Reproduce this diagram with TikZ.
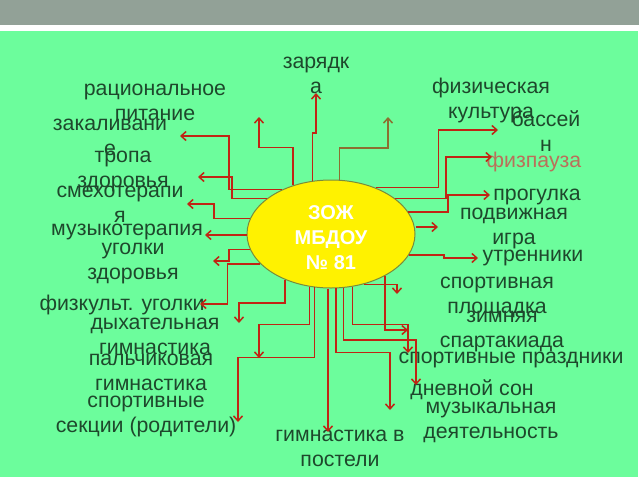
\documentclass[tikz,border=0pt]{standalone}
\usepackage{fontspec}
\setmainfont{Liberation Sans}
\usetikzlibrary{shapes.geometric,arrows.meta}
\definecolor{bggreen}{RGB}{108,253,156}
\definecolor{bandgray}{RGB}{146,161,151}
\definecolor{txtgreen}{RGB}{30,72,44}
\definecolor{linered}{RGB}{192,36,20}
\definecolor{lineolive}{RGB}{140,112,48}
\definecolor{pausecol}{RGB}{186,112,90}
\definecolor{edgeolive}{RGB}{120,140,60}
\tikzstyle{core} = [ellipse, minimum width=168pt, minimum height=108pt, inner sep=0pt, draw=edgeolive, line width=1pt, fill=yellow]
\tikzstyle{coretext} = [align=center, inner sep=0pt, text=white, font=\bfseries\fontsize{20}{25}\selectfont]
\tikzstyle{item} = [align=center, inner sep=0pt, text=txtgreen, font=\fontsize{21.3}{25}\selectfont]
\tikzstyle{arrow} = [line width=1.5pt, draw=linered, ->, >={Straight Barb[length=5pt,width=9pt]}]
\tikzstyle{arrowo} = [arrow, draw=lineolive]
\begin{document}
\begin{tikzpicture}[x=1pt, y=-1pt]

        \useasboundingbox (0,0) rectangle (640,480);
        \fill [white] (0,0) rectangle (640,480);
        \fill [bandgray] (0,0) rectangle (639,25);
        \fill [bggreen] (0,31) rectangle (638,477);

        \node (zozh) [core] at (331,234) {};
        \node (zozhtxt) [coretext] at (331,238) {ЗОЖ\\МБДОУ\\№ 81};

        \node (pit) [item] at (155,102) {рациональное\\питание};
        \node (zak) [item] at (110,137) {закаливани\\е};
        \node (trop) [item] at (123,171) {тропа\\здоровья};
        \node (smeh) [item] at (120,204) {смехотерапи\\я};
        \node (muzt) [item] at (127,232) {музыкотерапия};
        \node (ugz) [item] at (133,263) {уголки\\здоровья};
        \node (fizk) [item] at (122,305) {физкульт. уголки};
        \node (dyh) [item] at (155,336) {дыхательная\\гимнастика};
        \node (palc) [item] at (151,372) {пальчиковая\\гимнастика};
        \node (secc) [item] at (146,416) {спортивные\\секции (родители)};
        \node (zar) [item] at (316,75) {зарядк\\а};
        \node (fizc) [item] at (491,100) {физическая\\культура};
        \node (bas) [item] at (546,131) {бассей\\н};
        \node (fizp) [item, text=pausecol] at (534,162) {физпауза};
        \node (prog) [item] at (537,197) {прогулка};
        \node (podv) [item] at (514,228) {подвижная\\игра};
        \node (utr) [item] at (533,258) {утренники};
        \node (splo) [item] at (497,297) {спортивная\\площадка};
        \node (zim) [item] at (502,331) {зимняя\\спартакиада};
        \node (sprz) [item] at (511,360) {спортивные праздники};
        \node (dnev) [item] at (472,390) {дневной сон};
        \node (muzd) [item] at (491,422) {музыкальная\\деятельность};
        \node (gimp) [item] at (340,448) {гимнастика в\\постели};

        \coordinate (pitT) at (259,117);
        \coordinate (zakT) at (180,136);
        \coordinate (tropT) at (198,177);
        \coordinate (smehT) at (187,204);
        \coordinate (muztT) at (205,235);
        \coordinate (ugzT) at (213,261);
        \coordinate (fizkT) at (200,304);
        \coordinate (dyhT) at (239,323);
        \coordinate (palcT) at (259,358);
        \coordinate (seccT) at (238,422);
        \coordinate (zarT) at (316,93);
        \coordinate (fizcT) at (388,117);
        \coordinate (basT) at (498,130);
        \coordinate (fizpT) at (492,157);
        \coordinate (progT) at (490,195);
        \coordinate (podvT) at (438,227);
        \coordinate (utrT) at (478,258);
        \coordinate (sploT) at (397,294);
        \coordinate (zimT) at (408,330);
        \coordinate (sprzT) at (408,353);
        \coordinate (dnevT) at (416,385);
        \coordinate (muzdT) at (390,410);
        \coordinate (gimpT) at (328,432);

        \draw [arrow] (zozh.109) -- ++(0,-48) -| (zarT);
        \draw [arrow] (zozh.128) -- ++(0,-38) -| (pitT);
        \draw [arrowo] (zozh.81) -- ++(0,-32) -| (fizcT);
        \draw [arrow] (zozh.46) -- ++(63,0) |- (basT);
        \draw [arrow] (zozh.29) -- ++(51,0) |- (fizpT);
        \draw [arrow] (zozh.16) -- ++(40,0) |- (progT);
        \draw [arrow] (zozh.east |- podvT) -- (podvT);
        \draw [arrow] (zozh.-15) -- ++(35,0) |- (utrT);
        \draw [arrow] (zozh.-57) -| (sploT);
        \draw [arrow] (zozh.-38) |- (zimT);
        \draw [arrow] (zozh.-68) -- ++(0,38) -| (sprzT);
        \draw [arrow] (zozh.-77) -- ++(0,52) -| (dnevT);
        \draw [arrow] (zozh.-85) -- ++(0,64) -| (muzdT);
        \draw [arrow] (gimpT |- zozh.south) -- (gimpT);
        \draw [arrow] (zozh.-107) -- ++(0,70) -| (seccT);
        \draw [arrow] (zozh.-112) -- ++(0,38) -| (palcT);
        \draw [arrow] (zozh.-135) -- ++(0,23) -| (dyhT);
        \draw [arrow] (zozh.-157) -- ++(-33,0) |- (fizkT);
        \draw [arrow] (zozh.-169) -- ++(-21,0) |- (ugzT);
        \draw [arrow] (zozh.west |- muztT) -- (muztT);
        \draw [arrow] (zozh.169) -- ++(-36,0) |- (smehT);
        \draw [arrow] (zozh.151) -- ++(-35,0) |- (tropT);
        \draw [arrow] (zozh.138) -- ++(-53,0) |- (zakT);

\end{tikzpicture}
\end{document}
